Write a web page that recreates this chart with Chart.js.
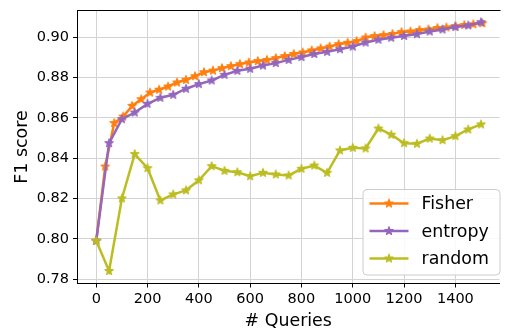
<!DOCTYPE html>
<html>
<head>
<meta charset="utf-8">
<script src="https://cdn.jsdelivr.net/npm/chart.js@4.4.1/dist/chart.umd.min.js"></script>
<style>
  html, body { margin: 0; padding: 0; background: #fff; }
  #wrap { width: 506px; height: 332px; }
</style>
</head>
<body>
<div id="wrap"><canvas id="f1Chart" width="506" height="332"></canvas></div>
<script>
// =====================
// DATOS
// =====================
const queriesFisher = [0, 35, 70, 105, 140, 175, 210, 245, 280, 315, 350, 385, 420, 455, 490,
    525, 560, 595, 630, 665, 700, 735, 770, 805, 840, 875, 910, 945, 980, 1015, 1050,
    1085, 1120, 1155, 1190, 1225, 1260, 1295, 1330, 1365, 1400, 1435, 1470, 1505];
const f1Fisher = [0.799, 0.8358, 0.8574, 0.8606, 0.8659, 0.8692, 0.8725, 0.8739, 0.8755, 0.8775,
    0.8788, 0.8806, 0.8826, 0.8834, 0.8846, 0.8856, 0.8866, 0.8874, 0.8881, 0.8887,
    0.8896, 0.8906, 0.8916, 0.8924, 0.8934, 0.8944, 0.8953, 0.8965, 0.8972, 0.8980,
    0.8998, 0.9005, 0.9010, 0.9016, 0.9025, 0.9028, 0.9035, 0.9038, 0.9045, 0.9048,
    0.9055, 0.9060, 0.9064, 0.9069];

const queries = [0, 50, 100, 150, 200, 250, 300, 350, 400, 450, 500, 550, 600, 650, 700, 750,
    800, 850, 900, 950, 1000, 1050, 1100, 1150, 1200, 1250, 1300, 1350, 1400, 1450, 1500];
const f1Entropy = [0.799, 0.8474, 0.8593, 0.8626, 0.8669, 0.8699, 0.8714, 0.8744, 0.8767, 0.8785,
    0.8813, 0.8833, 0.8843, 0.8859, 0.8871, 0.8887, 0.8901, 0.8916, 0.8927, 0.8940,
    0.8953, 0.8973, 0.8987, 0.8997, 0.9006, 0.9015, 0.9028, 0.9038, 0.9050, 0.9058, 0.9074];
const f1Random = [0.799, 0.784, 0.820, 0.842, 0.835, 0.819, 0.822, 0.824, 0.829, 0.836,
    0.8337, 0.833, 0.831, 0.8327, 0.8319, 0.8314, 0.8347, 0.8363, 0.8327, 0.8438,
    0.8451, 0.8448, 0.8547, 0.8516, 0.8474, 0.8471, 0.8497, 0.8489, 0.8509, 0.8542, 0.8567];

const xTicks = [0, 200, 400, 600, 800, 1000, 1200, 1400];
const yTicks = [0.78, 0.80, 0.82, 0.84, 0.86, 0.88, 0.90];

// =====================
// MARCADOR ESTRELLA (como el '*' de matplotlib)
// =====================
function estrella(color) {
    const c = document.createElement("canvas");
    c.width = 12;
    c.height = 12;
    const g = c.getContext("2d");
    g.beginPath();
    for (let i = 0; i < 10; i++) {
        const r = i % 2 === 0 ? 4.3 : 1.7;
        const a = -Math.PI / 2 + i * Math.PI / 5;
        const px = 6 + r * Math.cos(a), py = 6 + r * Math.sin(a);
        if (i === 0) g.moveTo(px, py); else g.lineTo(px, py);
    }
    g.closePath();
    g.fillStyle = color;
    g.strokeStyle = color;
    g.lineWidth = 1.2;
    g.lineJoin = "round";
    g.fill();
    g.stroke();
    return c;
}

const colores = { fisher: "#ff7f0e", entropy: "#9467bd", random: "#bcbd22" };
const toXY = (xs, ys) => xs.map((x, i) => ({ x: x, y: ys[i] }));

function serie(label, xs, ys, color, order) {
    return {
        label: label,
        data: toXY(xs, ys),
        borderColor: color,
        backgroundColor: color,
        borderWidth: 2.5,
        pointStyle: estrella(color),
        pointRadius: 4,
        tension: 0,
        fill: false,
        order: order
    };
}

// =====================
// PLUGINS: borde superior y leyenda dentro del grafico
// =====================
const bordePlugin = {
    id: "borde",
    afterDraw(chart) {
        const { ctx, chartArea } = chart;
        ctx.save();
        ctx.strokeStyle = "#000";
        ctx.lineWidth = 1;
        ctx.beginPath();
        ctx.moveTo(chartArea.left, chartArea.top);
        ctx.lineTo(chartArea.right + 1, chartArea.top);
        ctx.stroke();
        ctx.restore();
    }
};

const leyendaPlugin = {
    id: "leyenda",
    afterDraw(chart) {
        const ctx = chart.ctx;
        const x0 = 363, y0 = 189.5, w = 137, h = 85.5, r = 4;
        ctx.save();
        ctx.beginPath();
        ctx.moveTo(x0 + r, y0);
        ctx.arcTo(x0 + w, y0, x0 + w, y0 + h, r);
        ctx.arcTo(x0 + w, y0 + h, x0, y0 + h, r);
        ctx.arcTo(x0, y0 + h, x0, y0, r);
        ctx.arcTo(x0, y0, x0 + w, y0, r);
        ctx.closePath();
        ctx.fillStyle = "rgba(255,255,255,0.85)";
        ctx.fill();
        ctx.strokeStyle = "#cccccc";
        ctx.lineWidth = 1;
        ctx.stroke();

        ctx.font = "17.4px 'DejaVu Sans'";
        ctx.textBaseline = "middle";
        ctx.fillStyle = "#000";
        chart.data.datasets.forEach((ds, i) => {
            const y = 203.5 + i * 27.5;
            ctx.strokeStyle = ds.borderColor;
            ctx.lineWidth = ds.borderWidth;
            ctx.beginPath();
            ctx.moveTo(369.5, y);
            ctx.lineTo(408.5, y);
            ctx.stroke();
            ctx.drawImage(ds.pointStyle, 389 - 6, y - 6);
            ctx.fillText(ds.label, 421.5, y + 1);
        });
        ctx.restore();
    }
};

// =====================
// GRAFICO F1
// =====================
Chart.defaults.font.family = "'DejaVu Sans', sans-serif";
Chart.defaults.color = "#000";

new Chart(document.getElementById("f1Chart"), {
    type: "line",
    data: {
        datasets: [
            serie("Fisher", queriesFisher, f1Fisher, colores.fisher, 3),
            serie("entropy", queries, f1Entropy, colores.entropy, 2),
            serie("random", queries, f1Random, colores.random, 1)
        ]
    },
    options: {
        responsive: false,
        animation: false,
        layout: { padding: { top: 10.5, left: 0, right: 0, bottom: 0 } },
        plugins: {
            legend: { display: false },
            tooltip: { enabled: false }
        },
        scales: {
            x: {
                type: "linear",
                min: -75,
                max: 1572,
                afterBuildTicks: s => { s.ticks = xTicks.map(v => ({ value: v })); },
                afterFit: s => { s.height = 48.5; s.paddingLeft = 0; s.paddingRight = 0; },
                ticks: {
                    font: { size: 14.5 },
                    padding: 3,
                    maxRotation: 0,
                    callback: v => String(v)
                },
                grid: {
                    color: "#d3d3d3",
                    lineWidth: 1,
                    tickLength: 4,
                    tickColor: "#000"
                },
                border: { display: true, color: "#000", width: 1 },
                title: {
                    display: true,
                    text: "# Queries",
                    font: { size: 17.4 },
                    padding: { top: 0, bottom: 0 }
                }
            },
            y: {
                min: 0.7778,
                max: 0.9132,
                afterBuildTicks: s => { s.ticks = yTicks.map(v => ({ value: v })); },
                afterFit: s => { s.width = 77; s.paddingTop = 0; s.paddingBottom = 0; },
                ticks: {
                    font: { size: 14.5 },
                    padding: 4,
                    callback: v => v.toFixed(2)
                },
                grid: {
                    color: "#d3d3d3",
                    lineWidth: 1,
                    tickLength: 4,
                    tickColor: "#000"
                },
                border: { display: true, color: "#000", width: 1 },
                title: {
                    display: true,
                    text: "F1 score",
                    font: { size: 17.4 },
                    padding: { top: 12, bottom: 0 }
                }
            }
        }
    },
    plugins: [bordePlugin, leyendaPlugin]
});
</script>
</body>
</html>
